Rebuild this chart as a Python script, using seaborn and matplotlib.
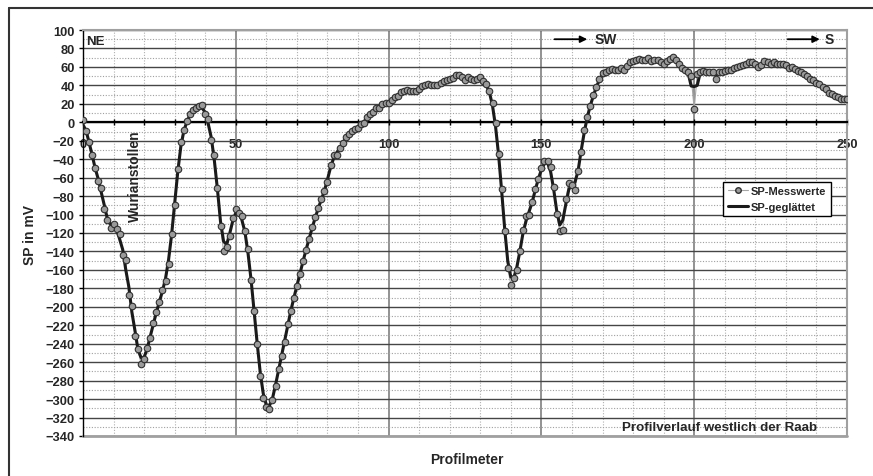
import numpy as np
import pandas as pd
import matplotlib.pyplot as plt
import seaborn as sns
from matplotlib.ticker import MultipleLocator
from matplotlib.lines import Line2D

# Profilmeter (1 m Abstand)
profilmeter = np.arange(0, 251)

sp_messwerte = [
    3, -9, -21, -36, -50, -64, -71, -94, -106, -115,
    -110, -116, -121, -144, -149, -187, -199, -232, -246, -262,
    -257, -245, -234, -217, -206, -195, -182, -172, -154, -121,
    -90, -51, -21, -8, 1, 9, 13, 15, 18, 19,
    9, 4, -19, -36, -71, -112, -140, -135, -123, -104,
    -94, -98, -102, -118, -137, -171, -204, -240, -275, -299,
    -309, -311, -301, -286, -267, -253, -238, -219, -204, -190,
    -177, -164, -150, -138, -126, -114, -103, -93, -83, -75,
    -65, -46, -36, -35, -28, -23, -16, -13, -9, -7,
    -6, -2, -1, 6, 9, 11, 15, 16, 20, 21,
    21, 24, 27, 29, 33, 34, 35, 34, 34, 34,
    36, 39, 40, 41, 40, 40, 40, 43, 45, 46,
    47, 48, 51, 51, 49, 46, 49, 47, 46, 47,
    49, 45, 42, 34, 21, -1, -34, -72, -118, -158,
    -176, -169, -160, -140, -117, -102, -101, -86, -72, -62,
    -50, -42, -42, -48, -70, -99, -118, -117, -83, -66,
    -68, -73, -53, -32, -8, 6, 18, 30, 38, 47,
    53, 55, 57, 58, 57, 57, 59, 57, 61, 65,
    66, 68, 69, 68, 68, 70, 66, 68, 67, 65,
    63, 66, 69, 71, 68, 63, 59, 57, 54, 50,
    14, 52, 54, 56, 54, 54, 54, 47, 54, 55,
    56, 57, 57, 59, 60, 61, 62, 63, 65, 65,
    63, 60, 62, 66, 65, 63, 65, 63, 63, 63,
    62, 59, 60, 58, 56, 55, 52, 50, 47, 46,
    43, 42, 38, 36, 32, 31, 29, 27, 25, 25,
    25,
]

legend_labels = ['SP-Messwerte', 'SP-geglättet']

sns.set_style('white')
plt.rcParams['font.family'] = ['Liberation Sans', 'DejaVu Sans']
plt.rcParams['font.weight'] = 'bold'

df = pd.DataFrame({'Profilmeter': profilmeter, 'SP': sp_messwerte})
# gleitendes Mittel über 3 Punkte
df['SP_glatt'] = df['SP'].rolling(3, center=True, min_periods=1).mean()

fig = plt.figure(figsize=(8.73, 4.77), dpi=100)
ax = fig.add_axes([83 / 873, 1 - 437 / 477, 764 / 873, 406 / 477])

# Messwerte-Linie (dünn, grau), geglättete Linie, dann Punkte
sns.lineplot(data=df, x='Profilmeter', y='SP', color='#a6a6a6', lw=0.8,
             ax=ax, zorder=3, legend=False)
sns.lineplot(data=df, x='Profilmeter', y='SP_glatt', color='#1a1a1a', lw=2.2,
             ax=ax, zorder=4, legend=False)
sns.scatterplot(data=df, x='Profilmeter', y='SP', s=22, color='#9a9a9a',
                edgecolor='#303030', linewidth=0.8, ax=ax, zorder=5, legend=False)

ax.set_xlim(0, 250)
ax.set_ylim(-340, 100)
ax.xaxis.set_major_locator(MultipleLocator(50))
ax.xaxis.set_minor_locator(MultipleLocator(10))
ax.yaxis.set_major_locator(MultipleLocator(20))
ax.yaxis.set_minor_locator(MultipleLocator(10))

# Gitter
ax.set_axisbelow(True)
ax.grid(which='major', axis='y', color='#454545', lw=1.0, ls='-')
ax.grid(which='minor', axis='y', color='#a0a0a0', lw=0.8, ls=(0, (1, 1.5)))
ax.grid(which='major', axis='x', color='#7f7f7f', lw=1.2, ls='-')
ax.grid(which='minor', axis='x', color='#b0b0b0', lw=0.8, ls=(0, (1, 1.5)))

# x-Achse bei 0
ax.spines['bottom'].set_position(('data', 0))
ax.spines['bottom'].set_color('black')
ax.spines['bottom'].set_linewidth(1.6)
ax.spines['bottom'].set_zorder(2.5)
ax.spines['left'].set_color('black')
ax.spines['left'].set_linewidth(1.0)
for s in ['top', 'right']:
    ax.spines[s].set_color('#a0a0a0')
    ax.spines[s].set_linewidth(1.5)
ax.axhline(-340, color='#a0a0a0', lw=2, clip_on=False, zorder=2)

ax.tick_params(axis='x', which='both', direction='inout', length=4, width=1,
               color='black', pad=9.5, labelsize=9.3, bottom=True)
ax.tick_params(axis='y', which='major', direction='out', length=3, width=1,
               color='black', pad=3, labelsize=9.3, left=True)
ax.tick_params(axis='y', which='minor', length=0)
ax.set_xlabel('')
ax.set_ylabel('')

# Legende
handles = [
    Line2D([], [], color='#a6a6a6', lw=0.8, marker='o', markersize=4,
           markerfacecolor='#9a9a9a', markeredgecolor='#303030'),
    Line2D([], [], color='#1a1a1a', lw=2.2),
]
leg = ax.legend(handles, legend_labels, loc='upper left', bbox_to_anchor=(0.838, 0.626),
                frameon=True, fancybox=False, edgecolor='black', framealpha=1,
                fontsize=8, handlelength=1.8, borderpad=0.4, labelspacing=0.5,
                handletextpad=0.3, borderaxespad=0)
leg.get_frame().set_linewidth(1.0)
leg.set_zorder(10)

# Beschriftungen im Diagramm
ax.text(1, 88, 'NE', fontsize=9.5, ha='left', va='center', zorder=6)
ax.text(17, -57, 'Wurianstollen', rotation=90, ha='center', va='center', fontsize=10, zorder=6)
ax.annotate('', xy=(165.9, 90), xytext=(153.4, 90),
            arrowprops=dict(arrowstyle='-|>', color='black', lw=1.3, mutation_scale=10), zorder=6)
ax.text(167.3, 90, 'SW', fontsize=10, ha='left', va='center', zorder=6)
ax.annotate('', xy=(242.0, 90), xytext=(229.7, 90),
            arrowprops=dict(arrowstyle='-|>', color='black', lw=1.3, mutation_scale=10), zorder=6)
ax.text(242.8, 90, 'S', fontsize=10, ha='left', va='center', zorder=6)
ax.text(208.4, -330, 'Profilverlauf westlich der Raab', fontsize=9.6,
        ha='center', va='center', zorder=6)

fig.text(30 / 873, 1 - 235 / 477, 'SP in mV', rotation=90, ha='center', va='center', fontsize=10)
fig.text(467 / 873, 1 - 460 / 477, 'Profilmeter', ha='center', va='center', fontsize=10)

# Rahmen des Diagrammbereichs
fig.add_artist(Line2D([9 / 873, 9 / 873], [0, 1 - 9 / 477], transform=fig.transFigure,
                      color='#333333', lw=1.5))
fig.add_artist(Line2D([9 / 873, 1], [1 - 9 / 477, 1 - 9 / 477], transform=fig.transFigure,
                      color='#333333', lw=1.5))

plt.savefig('out.png', dpi=100)
